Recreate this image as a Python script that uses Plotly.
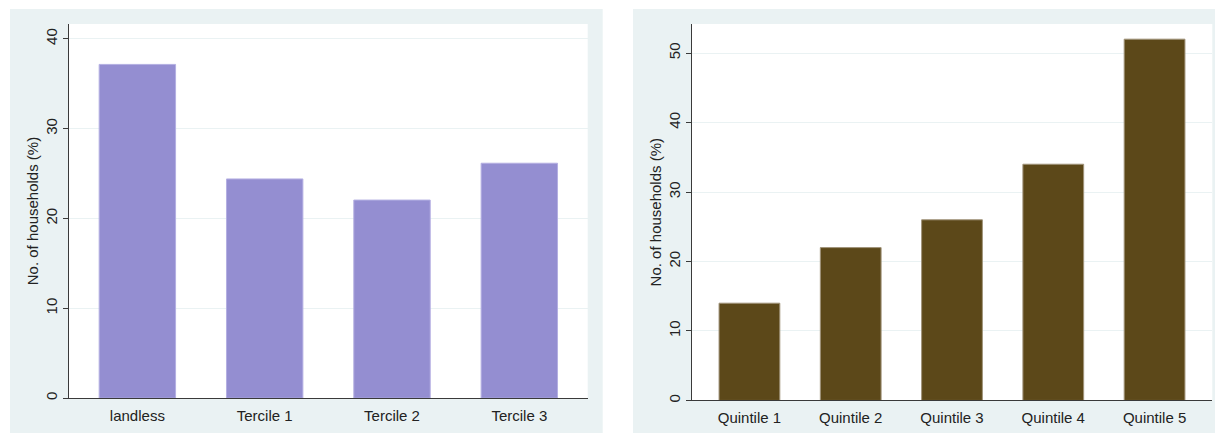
import plotly.graph_objects as go

# Data
land_categories = ["landless", "Tercile 1", "Tercile 2", "Tercile 3"]
land_values = [37.15, 24.4, 22.05, 26.15]

wealth_categories = ["Quintile 1", "Quintile 2", "Quintile 3", "Quintile 4", "Quintile 5"]
wealth_values = [14.0, 22.0, 26.0, 34.0, 52.0]

y_title = "No. of households (%)"
left_ticks = [0, 10, 20, 30, 40]
right_ticks = [0, 10, 20, 30, 40, 50]

W, H = 1215, 435
FONT = "Liberation Sans, Arial, sans-serif"
BG = "#EAF2F3"
GRID = "#EAF2F3"
AXIS = "#3a3a3a"

def px_x(v):
    return v / W

def px_y(v):
    return 1 - v / H

fig = go.Figure()

fig.add_trace(go.Bar(
    x=land_categories, y=land_values, xaxis="x", yaxis="y",
    marker=dict(color="#948ED1", line=dict(color="#B4AFE2", width=1)),
    width=0.6, showlegend=False,
))
fig.add_trace(go.Bar(
    x=wealth_categories, y=wealth_values, xaxis="x2", yaxis="y2",
    marker=dict(color="#5C4819", line=dict(color="#A0937A", width=1)),
    width=0.6, showlegend=False,
))

# panel backgrounds
shapes = [
    dict(type="rect", xref="paper", yref="paper", x0=px_x(10), x1=px_x(602.7),
         y0=px_y(435), y1=px_y(9), fillcolor=BG, line=dict(width=0), layer="below"),
    dict(type="rect", xref="paper", yref="paper", x0=px_x(633), x1=px_x(1215),
         y0=px_y(435), y1=px_y(9), fillcolor=BG, line=dict(width=0), layer="below"),
    # white plot regions
    dict(type="rect", xref="paper", yref="paper", x0=px_x(69), x1=px_x(587.7),
         y0=px_y(400), y1=px_y(24), fillcolor="white", line=dict(width=0), layer="below"),
    dict(type="rect", xref="paper", yref="paper", x0=px_x(691.7), x1=px_x(1212.3),
         y0=px_y(402.3), y1=px_y(24), fillcolor="white", line=dict(width=0), layer="below"),
]

xcommon = dict(showgrid=False, ticks="", showline=True, linecolor=AXIS, linewidth=1,
               tickfont=dict(family=FONT, size=15, color="#222"), zeroline=False,
               ticklabelstandoff=4, fixedrange=True)
ycommon = dict(showgrid=True, gridcolor=GRID, gridwidth=1, ticks="outside", ticklen=5,
               tickcolor=AXIS, showline=True, linecolor=AXIS, linewidth=1, zeroline=False,
               tickangle=-90, tickfont=dict(family=FONT, size=15, color="#222"),
               title=dict(text=y_title, font=dict(family=FONT, size=15, color="#222"), standoff=0),
               fixedrange=True)

fig.update_layout(
    width=W, height=H,
    margin=dict(l=0, r=0, t=0, b=0),
    paper_bgcolor="white", plot_bgcolor="rgba(0,0,0,0)",
    shapes=shapes,
    bargap=0.4,
    xaxis=dict(domain=[px_x(69), px_x(587.7)], range=[-0.537, 3.537], anchor="y", **xcommon),
    yaxis=dict(domain=[px_y(400), px_y(24)], range=[0, 41.66], tickvals=left_ticks,
               anchor="x", **ycommon),
    xaxis2=dict(domain=[px_x(691.7), px_x(1212.3)], range=[-0.57, 4.57], anchor="y2", **xcommon),
    yaxis2=dict(domain=[px_y(402.3), px_y(24)], range=[0, 54.2], tickvals=right_ticks,
                anchor="x2", **ycommon),
)

fig.write_html(
    "out.html",
    config={"displayModeBar": False},
    post_script="document.body.style.margin='0';document.body.style.overflow='hidden';",
)
